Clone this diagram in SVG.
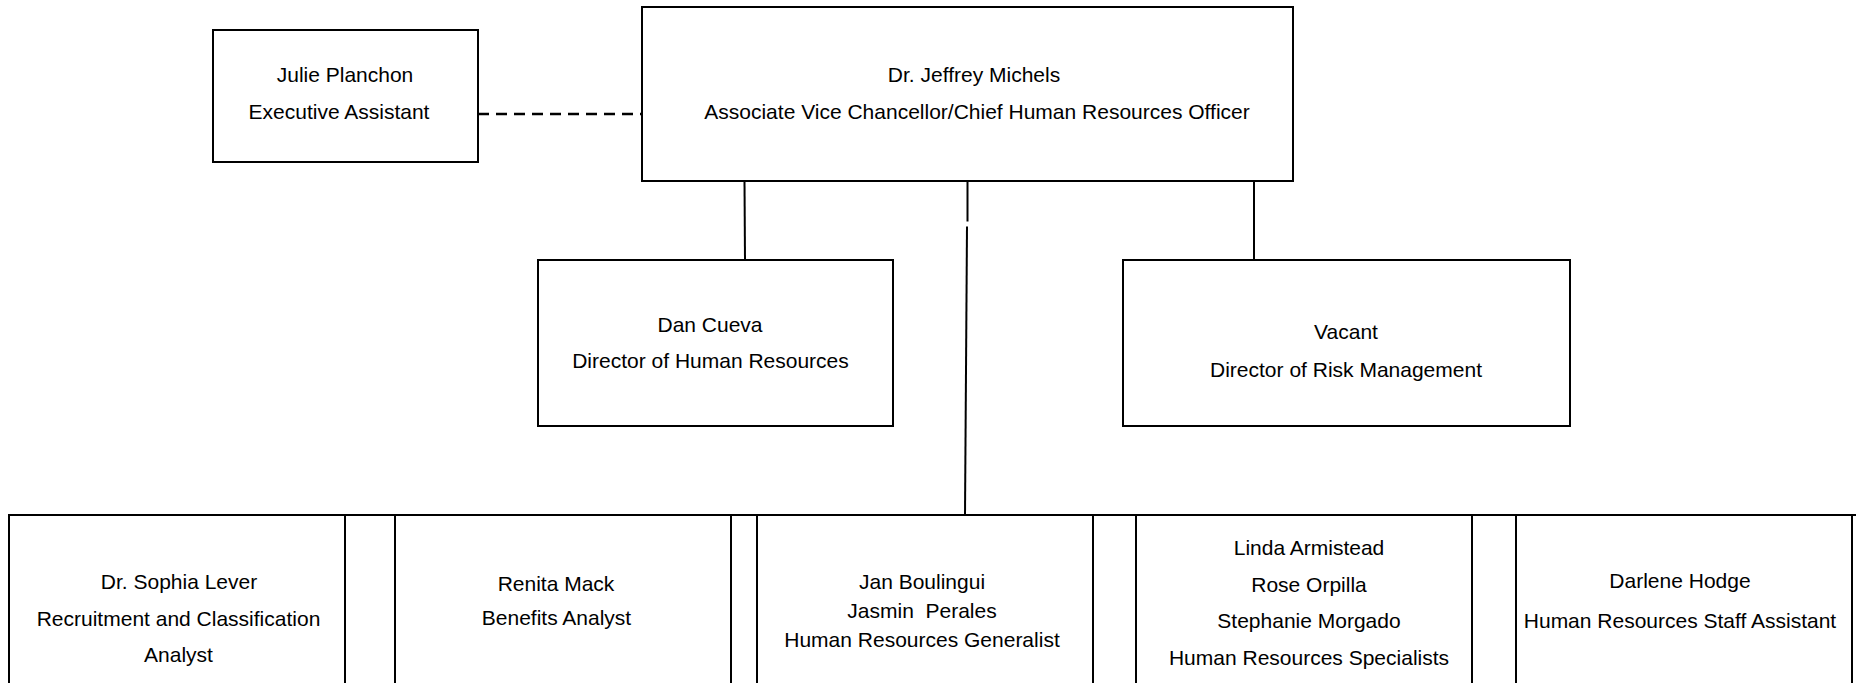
<svg xmlns="http://www.w3.org/2000/svg" width="1864" height="683" viewBox="0 0 1864 683">
<style>
.box{fill:#fff;stroke:#000;stroke-width:2}
.ln{stroke:#000;stroke-width:2;fill:none}
.dash{stroke:#000;stroke-width:2.4;stroke-dasharray:11 7;fill:none}
text{font-family:"Liberation Sans",Arial,sans-serif;font-size:21px;fill:#000;text-anchor:middle}
</style>
<rect width="1864" height="683" fill="#fff"/>
<g id="connectors">
<line class="dash" x1="478" y1="114" x2="641" y2="114"/>
<line class="ln" x1="744.5" y1="181" x2="745" y2="260"/>
<line class="ln" x1="1254" y1="182" x2="1254" y2="261"/>
<line class="ln" x1="967.5" y1="181" x2="967.5" y2="221.5"/>
<line class="ln" x1="967" y1="226.5" x2="965" y2="515"/>
<line class="ln" x1="9" y1="515" x2="1856" y2="515"/>
</g>
<g id="julie">
<rect class="box" x="213" y="30" width="265" height="132"/>
<text x="345" y="82">Julie Planchon</text>
<text x="339" y="119">Executive Assistant</text>
</g>
<g id="michels">
<rect class="box" x="642" y="7" width="651" height="174"/>
<text x="974" y="82">Dr. Jeffrey Michels</text>
<text x="977" y="119">Associate Vice Chancellor/Chief Human Resources Officer</text>
</g>
<g id="cueva">
<rect class="box" x="538" y="260" width="355" height="166"/>
<text x="710" y="332">Dan Cueva</text>
<text x="710.5" y="368">Director of Human Resources</text>
</g>
<g id="vacant">
<rect class="box" x="1123" y="260" width="447" height="166"/>
<text x="1346" y="339">Vacant</text>
<text x="1346" y="377">Director of Risk Management</text>
</g>
<g id="lever">
<rect class="box" x="9" y="515" width="336" height="180"/>
<text x="179" y="589">Dr. Sophia Lever</text>
<text x="178.5" y="626">Recruitment and Classification</text>
<text x="178.5" y="662">Analyst</text>
</g>
<g id="mack">
<rect class="box" x="395" y="515" width="336" height="180"/>
<text x="556" y="591">Renita Mack</text>
<text x="556.5" y="625">Benefits Analyst</text>
</g>
<g id="boulingui">
<rect class="box" x="757" y="515" width="336" height="180"/>
<text x="922" y="589">Jan Boulingui</text>
<text x="922" y="618" style="white-space:pre">Jasmin  Perales</text>
<text x="922" y="647">Human Resources Generalist</text>
</g>
<g id="armistead">
<rect class="box" x="1136" y="515" width="336" height="180"/>
<text x="1309" y="555">Linda Armistead</text>
<text x="1309" y="592">Rose Orpilla</text>
<text x="1309" y="628">Stephanie Morgado</text>
<text x="1309" y="665">Human Resources Specialists</text>
</g>
<g id="hodge">
<rect class="box" x="1516" y="515" width="336" height="180"/>
<text x="1680" y="588">Darlene Hodge</text>
<text x="1680" y="628">Human Resources Staff Assistant</text>
</g>
</svg>
